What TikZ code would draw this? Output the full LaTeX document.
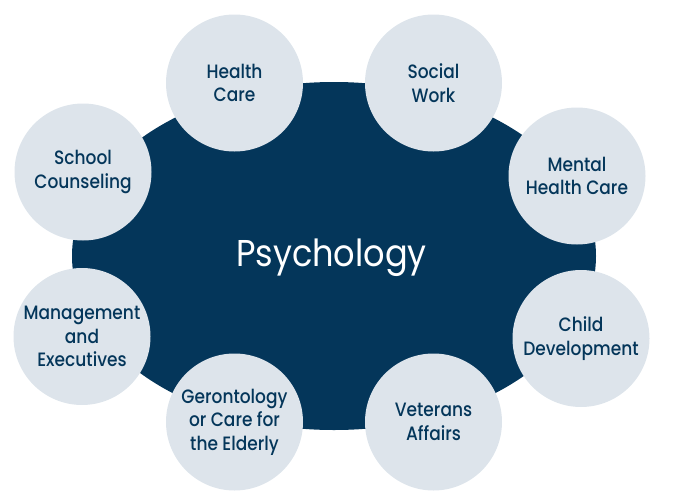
\documentclass[tikz,border=0pt]{standalone}
\usepackage{fontspec}
\setmainfont{Poppins}[UprightFont=* Medium, FakeStretch=0.88]
\newfontfamily\titlefont{Poppins}[FakeStretch=0.9]
\usetikzlibrary{positioning}
\definecolor{navy}{HTML}{04365A}
\definecolor{pale}{HTML}{DDE4EB}

\begin{document}
\begin{tikzpicture}[x=0.75pt, y=-0.75pt,
    field/.style={circle, fill=pale, text=navy, minimum size=102.75pt, inner sep=0pt,
      align=center, font=\fontsize{14.5}{17.6}\selectfont}]
      \useasboundingbox (0,0) rectangle (675,500);

      % central area
      \fill[navy] (334,256) ellipse [x radius=196.5pt, y radius=130.5pt];
      \node[text=white, font=\titlefont\fontsize{28}{30}\selectfont] (psych) at (331.5,258) {Psychology};

      % fields around it
      \node[field] (health) at (234.5,83) {Health\\Care};
      \node[field] (social) at (433.5,83) {Social\\Work};
      \node[field] (school) at (83,172) {School\\Counseling};
      \node[field] (mental) at (577,176) {Mental\\Health Care};
      \node[field] (manage) at (82,336.5) {Management\\and\\Executives};
      \node[field] (child) at (581,338.5) {Child\\Development};
      \node[field] (geron) at (234.5,422) {Gerontology\\or Care for\\the Elderly};
      \node[field] (veteran) at (433.5,422) {Veterans\\Affairs};
    \end{tikzpicture}
\end{document}
